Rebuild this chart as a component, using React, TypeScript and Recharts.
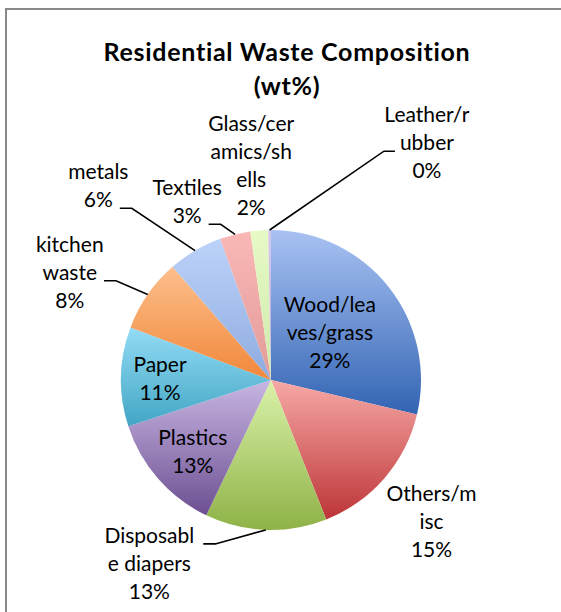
import React from "react";
import { PieChart, Pie, Cell } from "recharts";

const CATEGORIES = [
  "Wood/leaves/grass",
  "Others/misc",
  "Disposable diapers",
  "Plastics",
  "Paper",
  "kitchen waste",
  "metals",
  "Textiles",
  "Glass/ceramics/shells",
  "Leather/rubber",
];
const VALUES = [28.7, 15.3, 13.1, 12.9, 10.7, 7.9, 5.9, 3.3, 1.9, 0.3];
const LABEL_LINES = [
  ["Wood/lea", "ves/grass"],
  ["Others/m", "isc"],
  ["Disposabl", "e diapers"],
  ["Plastics"],
  ["Paper"],
  ["kitchen", "waste"],
  ["metals"],
  ["Textiles"],
  ["Glass/cer", "amics/sh", "ells"],
  ["Leather/r", "ubber"],
];
const TITLE_LINES = ["Residential Waste Composition", "(wt%)"];

// styles
const GRAD_TOP = ["#a9c2f3", "#f7a9a6", "#daf2aa", "#c8b6e2", "#93dbf5", "#fcbf8c", "#bcd3fa", "#f9b8b6", "#e6fac6", "#d6c8ee"];
const GRAD_BOTTOM = ["#3264b3", "#bd3538", "#8fb247", "#6c4f92", "#42a6c4", "#f2873a", "#8eabdf", "#e29a98", "#cfe9aa", "#b9a6d9"];

// label placement relative to each slice (clockwise angle shift from slice middle, radius factor)
const LABEL_LAYOUT: { dA: number; r: number; leader?: "left" | "right"; attach?: number; gap?: number }[] = [
  { dA: 0, r: 0.5 },
  { dA: 0.7, r: 1.43 },
  { dA: 31.5, r: 1.47, leader: "right", attach: 0, gap: 9 },
  { dA: -1.5, r: 0.71 },
  { dA: -0.5, r: 0.74 },
  { dA: -6.7, r: 1.52, leader: "right", attach: 1, gap: 7 },
  { dA: -11.3, r: 1.73, leader: "right", attach: 1, gap: 7 },
  { dA: -11.4, r: 1.31, leader: "right", attach: 1, gap: 7 },
  { dA: -0.8, r: 1.43 },
  { dA: 33.9, r: 1.89, leader: "left", attach: 1, gap: 5 },
];

const LABEL_FONT = "Lato, 'Open Sans', sans-serif";
const LABEL_SIZE = 21;
const LINE_H = 28;

const data = CATEGORIES.map((name, i) => ({ name, value: VALUES[i] }));
const TOTAL = VALUES.reduce((a, b) => a + b, 0);

let ctx: CanvasRenderingContext2D | null = null;
function measure(text: string): number {
  if (!ctx) {
    const c = document.createElement("canvas");
    ctx = c.getContext("2d");
  }
  if (!ctx) return text.length * 10;
  ctx.font = `${LABEL_SIZE}px Lato`;
  return ctx.measureText(text).width;
}

const RAD = Math.PI / 180;

function renderLabel(props: any) {
  const { cx, cy, midAngle, outerRadius, index, value } = props;
  const lay = LABEL_LAYOUT[index];
  const cw = 90 - midAngle;
  const la = cw + lay.dA;
  const lx = cx + lay.r * outerRadius * Math.sin(la * RAD);
  const ly = cy - lay.r * outerRadius * Math.cos(la * RAD);
  const lines = [...LABEL_LINES[index], `${Math.round((value / TOTAL) * 100)}%`];
  const n = lines.length;
  const baseOf = (i: number) => ly + (i - (n - 1) / 2) * LINE_H + 7;
  let leader = null;
  if (lay.leader) {
    const ai = lay.attach ?? 0;
    const w = measure(lines[ai]);
    const yb = baseOf(ai) + 1;
    const ax = cx + outerRadius * Math.sin(cw * RAD);
    const ay = cy - outerRadius * Math.cos(cw * RAD);
    let x0: number, x1: number;
    if (lay.leader === "right") {
      x0 = lx + w / 2 + (lay.gap ?? 7);
      x1 = x0 + 12;
    } else {
      x0 = lx - w / 2 - (lay.gap ?? 5);
      x1 = x0 - 11;
    }
    leader = (
      <path d={`M${x0},${yb}L${x1},${yb}L${ax},${ay}`} stroke="#000" strokeWidth={1.6} fill="none" />
    );
  }
  return (
    <g key={`lbl-${index}`}>
      {leader}
      {lines.map((t, i) => (
        <text
          key={i}
          x={lx}
          y={baseOf(i)}
          textAnchor="middle"
          fontFamily={LABEL_FONT}
          fontSize={LABEL_SIZE}
          fill="#000"
        >
          {t}
        </text>
      ))}
    </g>
  );
}

export default function App() {
  return (
    <div style={{ position: "absolute", left: 0, top: 0, width: 561, height: 612, background: "#fff", overflow: "hidden" }}>
      <div
        style={{
          position: "absolute",
          left: 5,
          top: 8,
          width: 700,
          height: 800,
          border: "2px solid #888",
          boxSizing: "border-box",
        }}
      />
      <div style={{ position: "absolute", left: 0, top: 0 }}>
        <PieChart width={561} height={612} margin={{ top: 0, right: 0, bottom: 0, left: 0 }}>
          <defs>
            {GRAD_TOP.map((c, i) => (
              <linearGradient key={i} id={`g${i}`} x1="0" y1="0" x2="0" y2="1">
                <stop offset="0%" stopColor={c} />
                <stop offset="100%" stopColor={GRAD_BOTTOM[i]} />
              </linearGradient>
            ))}
          </defs>
          <Pie
            data={data}
            dataKey="value"
            nameKey="name"
            cx={271}
            cy={380}
            outerRadius={150}
            startAngle={90}
            endAngle={-270}
            stroke="none"
            label={renderLabel}
            labelLine={false}
            isAnimationActive={false}
          >
            {data.map((_, i) => (
              <Cell key={i} fill={`url(#g${i})`} />
            ))}
          </Pie>
        </PieChart>
      </div>
      <svg width={561} height={612} style={{ position: "absolute", left: 0, top: 0, pointerEvents: "none" }}>
        {TITLE_LINES.map((t, i) => (
          <text
            key={i}
            x={287}
            y={61 + i * 34}
            textAnchor="middle"
            fontFamily={LABEL_FONT}
            fontWeight="bold"
            fontSize={25}
            letterSpacing={0.7}
            fill="#000"
          >
            {t}
          </text>
        ))}
      </svg>
    </div>
  );
}
